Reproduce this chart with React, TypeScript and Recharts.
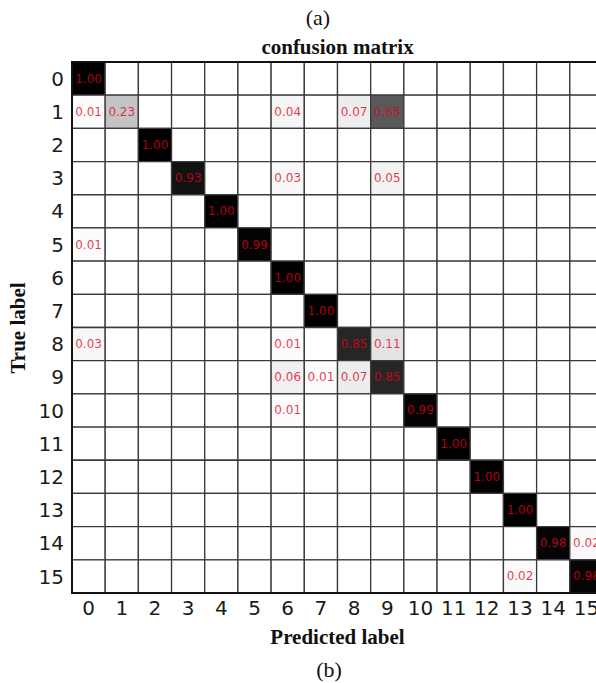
import React from 'react';
import { ScatterChart, Scatter, XAxis, YAxis, ReferenceArea } from 'recharts';

const classLabels = [0, 1, 2, 3, 4, 5, 6, 7, 8, 9, 10, 11, 12, 13, 14, 15];

// Non-zero entries of the normalised confusion matrix (true row, predicted col, value)
const cellRows = [0, 1, 1, 1, 1, 1, 2, 3, 3, 3, 4, 5, 5, 6, 7, 8, 8, 8, 8, 9, 9, 9, 9, 10, 10, 11, 12, 13, 14, 14, 15, 15];
const cellCols = [0, 0, 1, 6, 8, 9, 2, 3, 6, 9, 4, 0, 5, 6, 7, 0, 6, 8, 9, 6, 7, 8, 9, 6, 10, 11, 12, 13, 14, 15, 13, 15];
const cellValues = [1.0, 0.01, 0.23, 0.04, 0.07, 0.65, 1.0, 0.93, 0.03, 0.05, 1.0, 0.01, 0.99, 1.0, 1.0, 0.03, 0.01, 0.85, 0.11, 0.06, 0.01, 0.07, 0.85, 0.01, 0.99, 1.0, 1.0, 1.0, 0.98, 0.02, 0.02, 0.98];

const points = cellValues.map((v, i) => ({ x: cellCols[i], y: cellRows[i], v }));

const valueAt = (r: number, c: number) => {
  for (let i = 0; i < cellValues.length; i++) {
    if (cellRows[i] === r && cellCols[i] === c) return cellValues[i];
  }
  return 0;
};

const grey = (v: number) => {
  const g = Math.round(255 * (1 - v));
  return `rgb(${g},${g},${g})`;
};

const cells: { r: number; c: number; v: number }[] = [];
classLabels.forEach((r) => classLabels.forEach((c) => cells.push({ r, c, v: valueAt(r, c) })));

const serif = '"Liberation Serif", "Times New Roman", serif';
const sans = '"DejaVu Sans", sans-serif';

const CellText = (props: any) => {
  const { cx, cy, payload } = props;
  if (cx == null || cy == null) return null;
  return (
    <text
      x={cx}
      y={cy}
      textAnchor="middle"
      dominantBaseline="central"
      fontFamily={sans}
      fontSize={12}
      fill="#e0001b"
      fillOpacity={0.78}
    >
      {payload.v.toFixed(2)}
    </text>
  );
};

export default function App() {
  return (
    <div style={{ position: 'absolute', left: 0, top: 0, width: 596, height: 683, overflow: 'hidden', background: '#fff' }}>
      <div style={{ position: 'absolute', left: 0, width: 636, top: 6, textAlign: 'center', fontFamily: serif, fontSize: 22, lineHeight: '24px', color: '#111' }}>(a)</div>
      <div style={{ position: 'absolute', left: 0, width: 675, top: 35, textAlign: 'center', fontFamily: serif, fontWeight: 'bold', fontSize: 21, lineHeight: '24px', color: '#111' }}>confusion matrix</div>
      <div style={{ position: 'absolute', left: 0, width: 658, top: 658, textAlign: 'center', fontFamily: serif, fontSize: 22, lineHeight: '24px', color: '#111' }}>(b)</div>
      <svg width={40} height={683} style={{ position: 'absolute', left: 0, top: 0 }}>
        <text
          x={25}
          y={328}
          textAnchor="middle"
          transform="rotate(-90 25 328)"
          fontFamily={serif}
          fontWeight="bold"
          fontSize={21}
          fill="#111"
        >
          True label
        </text>
      </svg>
      <div style={{ position: 'absolute', left: 0, top: 0 }}>
        <ScatterChart width={640} height={683} margin={{ top: 62, right: 37, bottom: 50, left: 0 }}>
          <XAxis
            type="number"
            dataKey="x"
            domain={[-0.5, 15.5]}
            ticks={classLabels}
            interval={0}
            allowDataOverflow
            axisLine={false}
            tickLine={false}
            tickSize={0}
            tickMargin={8}
            height={40}
            tick={{ fontSize: 20, fill: '#1a1a1a', fontFamily: sans }}
            label={{ value: 'Predicted label', position: 'insideBottom', offset: -11, style: { fontFamily: serif, fontWeight: 'bold', fontSize: 21, fill: '#111' } } as any}
          />
          <YAxis
            type="number"
            dataKey="y"
            domain={[-0.5, 15.5]}
            reversed
            ticks={classLabels}
            interval={0}
            allowDataOverflow
            axisLine={false}
            tickLine={false}
            tickSize={0}
            tickMargin={8}
            width={72}
            tick={{ fontSize: 20, fill: '#1a1a1a', fontFamily: sans }}
          />
          {cells.map((cell) => (
            <ReferenceArea
              key={`${cell.r}-${cell.c}`}
              x1={cell.c - 0.5}
              x2={cell.c + 0.5}
              y1={cell.r - 0.5}
              y2={cell.r + 0.5}
              fill={grey(cell.v)}
              fillOpacity={1}
              stroke="#3a3a3a"
              strokeWidth={1.3}
              ifOverflow="visible"
            />
          ))}
          <ReferenceArea
            x1={-0.5}
            x2={15.5}
            y1={-0.5}
            y2={15.5}
            fill="none"
            fillOpacity={0}
            stroke="#111"
            strokeWidth={2}
            ifOverflow="visible"
          />
          <Scatter data={points} isAnimationActive={false} shape={<CellText />} />
        </ScatterChart>
      </div>
    </div>
  );
}
